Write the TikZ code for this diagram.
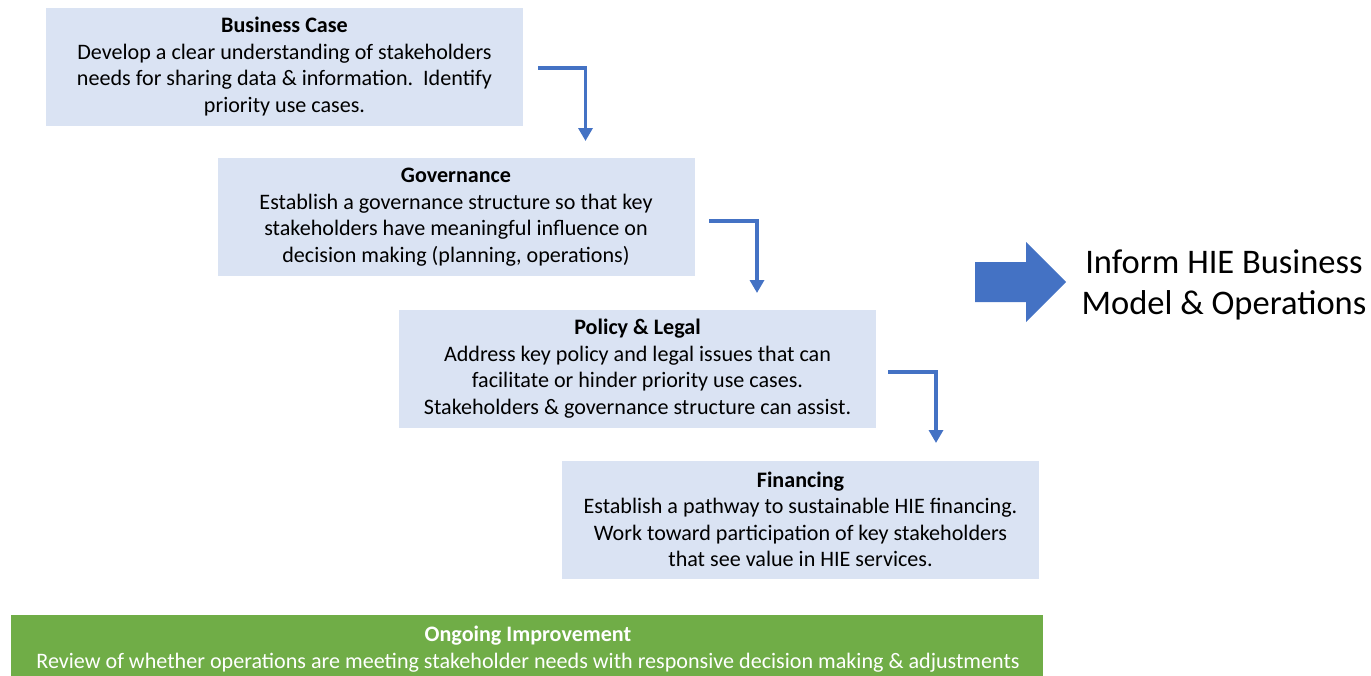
\documentclass[tikz,border=0pt]{standalone}
\usepackage{fontspec}
\setmainfont{Carlito}
\usetikzlibrary{arrows.meta}
\definecolor{boxfill}{HTML}{DAE3F3}
\definecolor{arrowblue}{HTML}{4472C4}
\definecolor{greenbar}{HTML}{70AD47}
\tikzset{
  stagebox/.style={fill=boxfill, draw=none, minimum width=477pt, minimum height=118pt, inner sep=0pt, align=center, font=\fontsize{22.1}{26.5}\selectfont},
  elbow/.style={draw=arrowblue, line width=3.5pt, -{Triangle[width=14pt,length=13pt]}},
}
\begin{document}
\begin{tikzpicture}[x=1pt,y=-1pt]
\useasboundingbox (0,0) rectangle (1371,675);
\clip (0,0) rectangle (1371,675);

\node[stagebox] (bc) at (284.5,66.5) {\textbf{Business Case}\\Develop a clear understanding of stakeholders\\needs for sharing data \& information.\ \ Identify\\priority use cases.};
\node[stagebox] (gov) at (456,217) {\textbf{Governance}\\Establish a governance structure so that key\\stakeholders have meaningful influence on\\decision making (planning, operations)};
\node[stagebox] (pol) at (637.5,368.5) {\textbf{Policy \& Legal}\\Address key policy and legal issues that can\\facilitate or hinder priority use cases.\\Stakeholders \& governance structure can assist.};
\node[stagebox] (fin) at (800.5,519.5) {\textbf{Financing}\\Establish a pathway to sustainable HIE financing.\\Work toward participation of key stakeholders\\that see value in HIE services.};

\fill[greenbar] (11,615) rectangle (1043,700);
\node[text=white, align=center, font=\fontsize{22.1}{27}\selectfont] (ongo) at (528,649.5) {\textbf{Ongoing Improvement}\\Review of whether operations are meeting stakeholder needs with responsive decision making \& adjustments};

\coordinate (a1s) at (538,68);
\coordinate (a1e) at (585.5,141);
\coordinate (a2s) at (709,221);
\coordinate (a2e) at (757,293);
\coordinate (a3s) at (888,372);
\coordinate (a3e) at (936,443);
\draw[elbow] (a1s) -| (a1e);
\draw[elbow] (a2s) -| (a2e);
\draw[elbow] (a3s) -| (a3e);

\fill[arrowblue] (975,262) -- (1026,262) -- (1026,242) -- (1066,282) -- (1026,322) -- (1026,302) -- (975,302) -- cycle;
\node[align=center, font=\fontsize{34.5}{41}\selectfont] (inform) at (1224,285) {Inform HIE Business\\Model \& Operations};
\end{tikzpicture}
\end{document}
